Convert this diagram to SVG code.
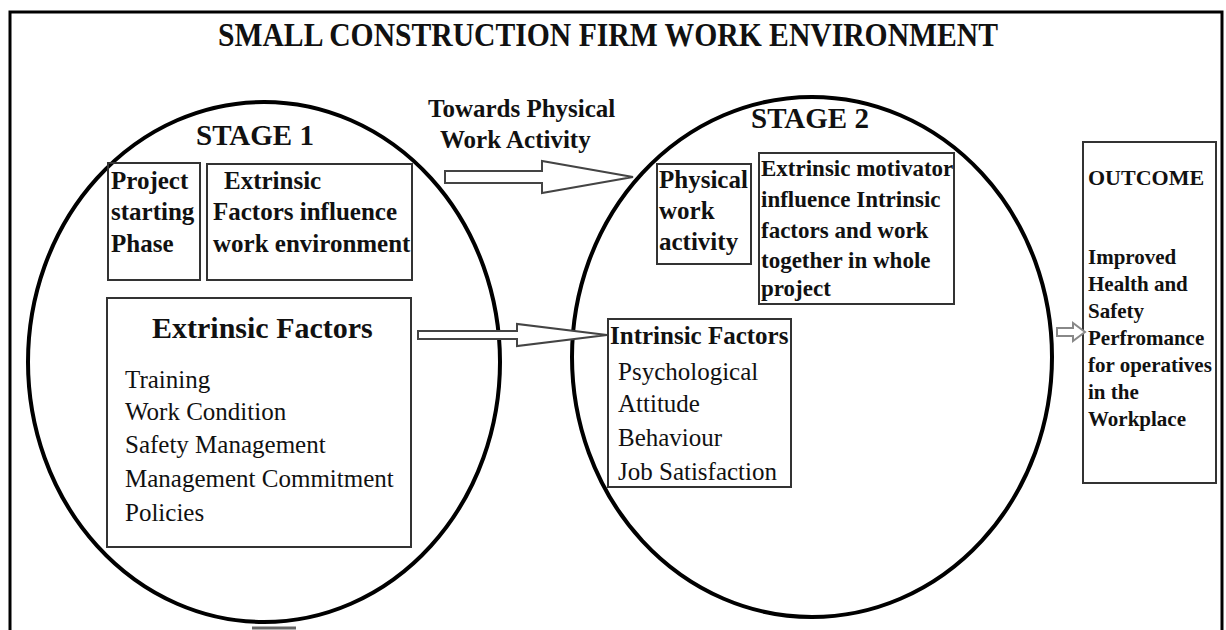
<svg xmlns="http://www.w3.org/2000/svg" width="1226" height="630" viewBox="0 0 1226 630">
<style>
text{font-family:"Liberation Serif","Times New Roman",serif;fill:#111}
.b{font-weight:bold}
.box{fill:none;stroke:#333;stroke-width:2}
.circ{fill:none;stroke:#000;stroke-width:4}
.arr{fill:#fff;stroke:#444;stroke-width:2;stroke-linejoin:miter}
</style>
<rect width="1226" height="630" fill="#fff"/>
<path d="M10,660 L10,12 L1222,12 L1222,660" fill="none" stroke="#000" stroke-width="3"/>
<text class="b" x="608" y="46" font-size="33" text-anchor="middle" textLength="780" lengthAdjust="spacingAndGlyphs">SMALL CONSTRUCTION FIRM WORK ENVIRONMENT</text>

<g id="stage1">
<ellipse class="circ" cx="264" cy="362" rx="236" ry="260"/>
<text class="b" x="255" y="145" font-size="29" text-anchor="middle">STAGE 1</text>
</g>
<g id="stage2">
<ellipse class="circ" cx="812" cy="357" rx="240" ry="260"/>
<text class="b" x="810" y="128" font-size="29" text-anchor="middle">STAGE 2</text>
</g>

<g id="project-phase">
<rect class="box" x="108" y="163" width="92" height="117"/>
<text class="b" font-size="25" x="111"><tspan x="111" y="189">Project</tspan><tspan x="111" y="220">starting</tspan><tspan x="111" y="252">Phase</tspan></text>
</g>
<g id="extrinsic-influence">
<rect class="box" x="207" y="164" width="205" height="116"/>
<text class="b" font-size="25"><tspan x="224" y="189">Extrinsic</tspan><tspan x="213" y="220">Factors influence</tspan><tspan x="213" y="252">work environment</tspan></text>
</g>
<g id="extrinsic-factors">
<rect class="box" x="107" y="298" width="304" height="249"/>
<text class="b" x="152" y="338" font-size="30">Extrinsic Factors</text>
<text font-size="25"><tspan x="125" y="388">Training</tspan><tspan x="125" y="420">Work Condition</tspan><tspan x="125" y="453">Safety Management</tspan><tspan x="125" y="487">Management Commitment</tspan><tspan x="125" y="521">Policies</tspan></text>
</g>
<g id="towards-label">
<text class="b" font-size="25"><tspan x="428" y="117">Towards Physical</tspan><tspan x="440" y="148">Work Activity</tspan></text>
</g>
<g id="physical-activity">
<rect class="box" x="657" y="164" width="94" height="100"/>
<text class="b" font-size="25"><tspan x="659" y="188">Physical</tspan><tspan x="659" y="219">work</tspan><tspan x="659" y="250">activity</tspan></text>
</g>
<g id="extrinsic-motivator">
<rect class="box" x="759" y="153" width="195" height="151"/>
<text class="b" font-size="23"><tspan x="761" y="176">Extrinsic motivator</tspan><tspan x="761" y="207">influence Intrinsic</tspan><tspan x="761" y="238">factors and work</tspan><tspan x="761" y="268">together in whole</tspan><tspan x="761" y="296">project</tspan></text>
</g>
<g id="intrinsic-factors">
<rect class="box" x="608" y="319" width="183" height="168"/>
<text class="b" x="610" y="344" font-size="25">Intrinsic Factors</text>
<text font-size="25"><tspan x="618" y="380">Psychological</tspan><tspan x="618" y="412">Attitude</tspan><tspan x="618" y="446">Behaviour</tspan><tspan x="618" y="480">Job Satisfaction</tspan></text>
</g>
<g id="outcome">
<rect class="box" x="1083" y="142" width="133" height="341"/>
<text class="b" x="1088" y="185" font-size="22">OUTCOME</text>
<text class="b" font-size="21"><tspan x="1088" y="264">Improved</tspan><tspan x="1088" y="291">Health and</tspan><tspan x="1088" y="318">Safety</tspan><tspan x="1088" y="345">Perfromance</tspan><tspan x="1088" y="372">for operatives</tspan><tspan x="1088" y="399">in the</tspan><tspan x="1088" y="426">Workplace</tspan></text>
</g>

<g id="connectors">
<path class="arr" d="M445,171 L542,171 L542,161 L633,177 L542,193 L542,183 L445,183 Z"/>
<path class="arr" d="M418,331 L517,331 L517,324 L607,335 L517,346 L517,339 L418,339 Z"/>
<path class="arr" style="stroke:#888" d="M1057,328 L1073,328 L1073,323 L1085,332 L1073,341 L1073,336 L1057,336 Z"/>
<line x1="252" y1="628" x2="296" y2="628" stroke="#666" stroke-width="3"/>
</g>
</svg>
